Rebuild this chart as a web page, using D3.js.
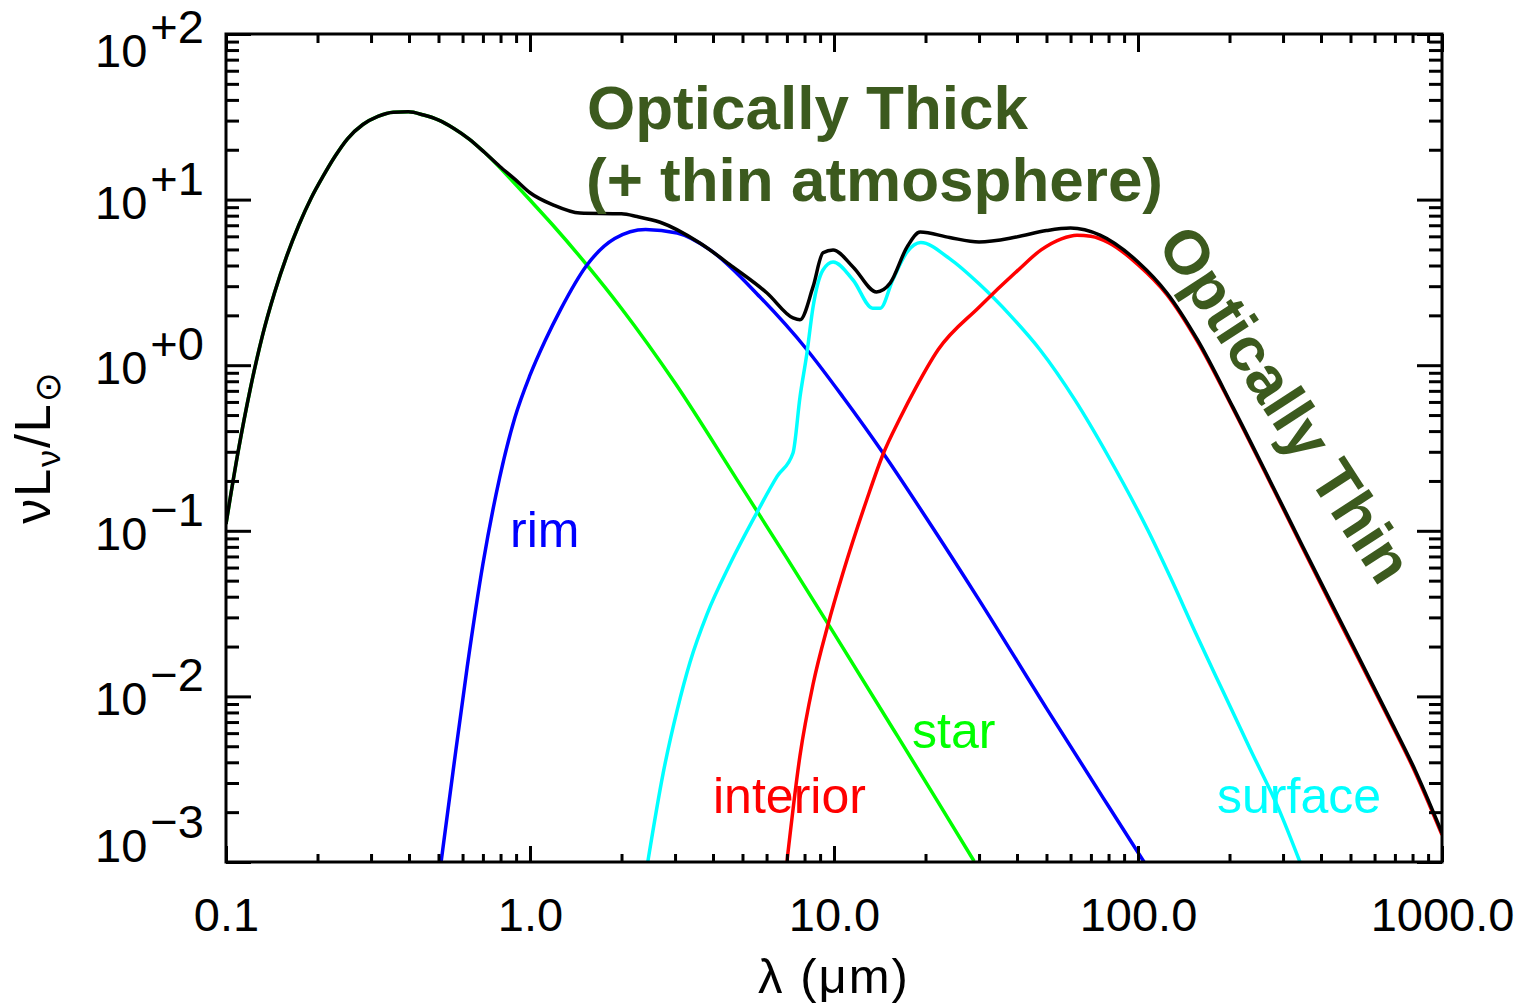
<!DOCTYPE html>
<html><head><meta charset="utf-8">
<script src="https://cdn.jsdelivr.net/npm/d3@7"></script>
<style>body{margin:0;background:#fff} svg{display:block;background:#fff}</style>
</head><body>
<svg id="c" width="1529" height="1004"></svg>
<script>
// ---- data (wavelength in micron, nu L_nu / L_sun) ----
const starData = [[0.1,0.11],[0.1096,0.30],[0.1202,0.72],[0.1318,1.51],[0.1445,2.75],[0.1585,4.57],[0.1738,7.05],[0.1905,10.2],[0.2089,13.9],[0.229,18.4],[0.251,23.3],[0.282,28.4],[0.316,31.8],[0.355,33.7],[0.398,33.9],[0.447,32.4],[0.501,30.2],[0.562,26.9],[0.631,23.2],[0.708,19.3],[0.794,15.7],[0.891,12.5],[1.0,9.94],[1.19,7.0],[1.54,4.02],[2.0,2.2],[3.0,0.78],[4.8,0.203],[7.0,0.0684],[10,0.024],[15.85,0.00612],[22,0.0023],[28.9,0.00101]];
const rimData = [[0.51,0.001],[0.558,0.0035],[0.621,0.0149],[0.70,0.063],[0.794,0.208],[0.891,0.48],[1.0,0.87],[1.122,1.41],[1.259,2.16],[1.54,4.03],[1.9,5.82],[2.4,6.6],[3.05,6.28],[3.91,4.97],[5.71,2.58],[8.15,1.24],[10.7,0.643],[14.5,0.295],[20,0.1216],[30,0.0383],[50,0.00847],[80,0.00217],[104.7,0.001]];
const surfaceData = [[2.44,0.001],[2.74,0.00342],[3.05,0.0083],[3.36,0.0161],[3.82,0.0313],[4.55,0.063],[5.58,0.129],[6.5,0.213],[7.33,0.295],[7.73,0.643],[8.15,1.19],[8.53,2.24],[9.2,3.76],[9.93,4.2],[11.55,3.27],[13.4,2.21],[14.2,2.21],[15.6,3.27],[17.4,4.83],[19.3,5.5],[24,4.4],[30,3.1],[38,2.0],[47.6,1.24],[62,0.617],[80,0.28],[108,0.1],[128,0.052],[155,0.024],[190,0.0108],[234,0.0048],[290,0.0021],[341,0.001]];
const interiorData = [[7.0,0.001],[7.73,0.0044],[8.53,0.0118],[9.55,0.027],[10.7,0.0556],[12.8,0.153],[14.5,0.29],[16.5,0.48],[18.5,0.72],[22,1.24],[30,2.24],[40,3.7],[48,4.97],[56,5.8],[63,6.1],[70,6.0],[80,5.5],[100,4.05],[124.5,2.67],[157,1.39],[205,0.55],[268,0.207],[349,0.078],[445,0.032],[669,0.0073],[815,0.0035],[1000,0.00146]];
const totalData = [[0.1,0.11],[0.1096,0.30],[0.1202,0.72],[0.1318,1.51],[0.1445,2.75],[0.1585,4.57],[0.1738,7.05],[0.1905,10.2],[0.2089,13.9],[0.229,18.4],[0.251,23.3],[0.282,28.4],[0.316,31.8],[0.355,33.7],[0.398,33.9],[0.447,32.4],[0.501,30.2],[0.562,26.9],[0.631,23.2],[0.708,19.3],[0.794,15.9],[0.891,13.3],[1.0,11.0],[1.19,9.3],[1.46,8.3],[2.0,8.2],[2.25,7.9],[2.68,7.3],[3.62,5.47],[4.65,3.92],[6.02,2.73],[7.33,1.93],[7.73,1.88],[8.53,2.97],[9.2,4.77],[9.93,4.97],[11.55,3.92],[13.8,2.77],[15.3,3.13],[17.4,5.18],[19.2,6.37],[24,5.9],[30,5.55],[39.7,5.94],[50,6.5],[60,6.73],[75,6.1],[100,4.2],[124.5,2.73],[157,1.42],[205,0.56],[268,0.211],[349,0.0798],[445,0.033],[669,0.0075],[815,0.0036],[1000,0.0015]];

const xTickValues = [0.1, 1, 10, 100, 1000];
const xTickLabels = ["0.1", "1.0", "10.0", "100.0", "1000.0"];
const yTickValues = [100, 10, 1, 0.1, 0.01, 0.001];
const yTickExponents = ["+2", "+1", "+0", "\u22121", "\u22122", "\u22123"];

const seriesNames = ["star", "rim", "surface", "interior", "total"];
const seriesColors = ["#00ff00", "#0000ff", "#00ffff", "#ff0000", "#000000"];
const curveLabelText = ["rim", "star", "interior", "surface"];
const curveLabelColor = ["#0000ff", "#00ff00", "#ff0000", "#00ffff"];
const curveLabelAt = [[0.86, 0.0798], [18.06, 0.00487], [4.0, 0.00198], [182, 0.00198]];

// ---- layout ----
const L = 226, R = 1442, T = 34, B = 862;
const svg = d3.select("#c");
const x = d3.scaleLog().domain([0.1, 1000]).range([L, R]);
const y = d3.scaleLog().domain([0.001, 100]).range([B, T]);
const FONT = "'Liberation Sans', Arial, 'DejaVu Sans', sans-serif";
const GREEN = "#3c5a1e";

const minorX = [];
[0.1, 1, 10, 100].forEach(d => { for (let k = 2; k <= 9; k++) minorX.push(d * k); });
const minorY = [];
[0.001, 0.01, 0.1, 1, 10].forEach(d => { for (let k = 2; k <= 9; k++) minorY.push(d * k); });

svg.append("defs").append("clipPath").attr("id", "clip")
  .append("rect").attr("x", L).attr("y", T).attr("width", R - L).attr("height", B - T);

// curves
const series = [starData, rimData, surfaceData, interiorData, totalData];
const line = d3.line().x(d => x(d[0])).y(d => y(d[1])).curve(d3.curveMonotoneX);
const gLines = svg.append("g").attr("clip-path", "url(#clip)");
series.forEach((s, i) => {
  gLines.append("path").datum(s).attr("d", line)
    .attr("fill", "none").attr("stroke", seriesColors[i])
    .attr("stroke-width", 3.5).attr("stroke-linejoin", "round")
    .attr("class", seriesNames[i]);
});

// axes (ticks inward)
function styleAxis(g) {
  g.select(".domain").remove();
  g.selectAll(".tick line").attr("stroke", "#000").attr("stroke-width", 3);
}
svg.append("g").attr("transform", `translate(0,${B})`)
  .call(d3.axisBottom(x).tickValues(xTickValues).tickSize(-16).tickPadding(36)
    .tickFormat((d, i) => xTickLabels[i]))
  .call(styleAxis)
  .call(g => g.selectAll("text").attr("font-family", FONT).attr("font-size", 47).attr("fill", "#000"));
svg.append("g").attr("transform", `translate(0,${B})`)
  .call(d3.axisBottom(x).tickValues(minorX).tickSize(-8).tickFormat(""))
  .call(styleAxis);
svg.append("g").attr("transform", `translate(0,${T})`)
  .call(d3.axisTop(x).tickValues(xTickValues).tickSize(-18).tickFormat(""))
  .call(styleAxis);
svg.append("g").attr("transform", `translate(0,${T})`)
  .call(d3.axisTop(x).tickValues(minorX).tickSize(-9).tickFormat(""))
  .call(styleAxis);
svg.append("g").attr("transform", `translate(${L},0)`)
  .call(d3.axisLeft(y).tickValues(yTickValues).tickSize(-25).tickFormat(""))
  .call(styleAxis);
svg.append("g").attr("transform", `translate(${L},0)`)
  .call(d3.axisLeft(y).tickValues(minorY).tickSize(-13).tickFormat(""))
  .call(styleAxis);
svg.append("g").attr("transform", `translate(${R},0)`)
  .call(d3.axisRight(y).tickValues(yTickValues).tickSize(-25).tickFormat(""))
  .call(styleAxis);
svg.append("g").attr("transform", `translate(${R},0)`)
  .call(d3.axisRight(y).tickValues(minorY).tickSize(-13).tickFormat(""))
  .call(styleAxis);

// frame
svg.append("rect").attr("x", L).attr("y", T).attr("width", R - L).attr("height", B - T)
  .attr("fill", "none").attr("stroke", "#000").attr("stroke-width", 3);

// y tick labels 10^n
yTickValues.forEach((v, i) => {
  const base = Math.min(Math.max(y(v) + 19, 67), B);
  const t = svg.append("text").attr("x", 95).attr("y", base)
    .attr("font-family", FONT).attr("font-size", 47).attr("fill", "#000");
  t.append("tspan").text("10");
  t.append("tspan").attr("dx", 3).attr("dy", -24).text(yTickExponents[i]);
});

// axis titles
svg.append("text").attr("x", x(10)).attr("y", 993).attr("text-anchor", "middle")
  .attr("font-family", FONT).attr("font-size", 49).attr("letter-spacing", 2).text("\u03bb (\u03bcm)");
const yt = svg.append("text").attr("transform", "translate(50,447) rotate(-90)")
  .attr("text-anchor", "middle").attr("font-family", FONT).attr("font-size", 50).attr("letter-spacing", 2);
yt.append("tspan").text("\u03bdL");
yt.append("tspan").attr("font-size", 34).attr("dy", 10).text("\u03bd");
yt.append("tspan").attr("dy", -10).text("/L");
yt.append("tspan").attr("font-family", "'DejaVu Sans', sans-serif").attr("font-size", 36).attr("dy", 10).text("\u2299");

// curve labels
curveLabelText.forEach((s, i) => {
  svg.append("text").attr("x", x(curveLabelAt[i][0])).attr("y", y(curveLabelAt[i][1]))
    .attr("font-family", FONT).attr("font-size", 50).attr("fill", curveLabelColor[i]).text(s);
});

// annotations
const ann = { "font-family": FONT, "font-size": 62, "font-weight": "bold", "fill": GREEN };
function addAnn(sel) { Object.entries(ann).forEach(([k, v]) => sel.attr(k, v)); return sel; }
addAnn(svg.append("text").attr("x", 587).attr("y", 129).text("Optically Thick"));
addAnn(svg.append("text").attr("x", 586).attr("y", 201).text("(+ thin atmosphere)"));
addAnn(svg.append("text").attr("transform", "translate(1156,244) rotate(57)").text("Optically Thin"));
</script>
</body></html>
